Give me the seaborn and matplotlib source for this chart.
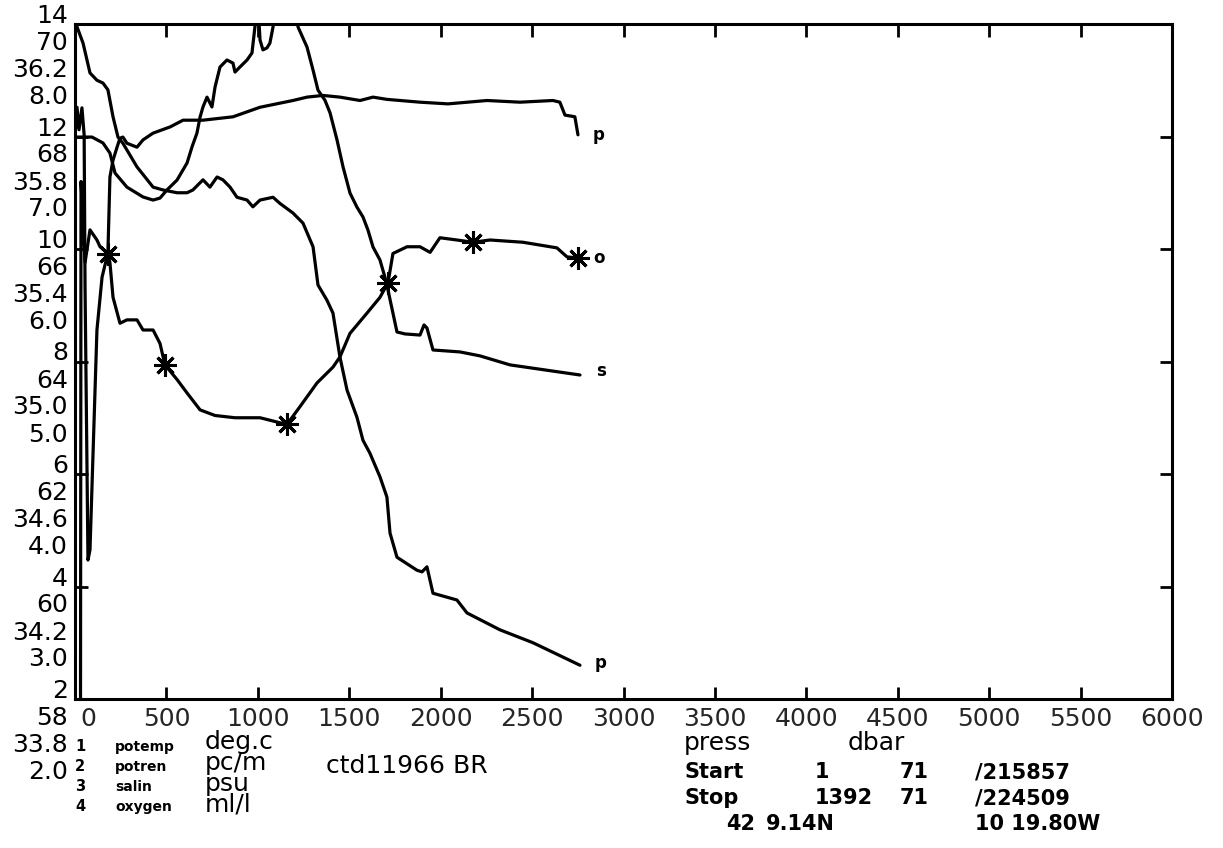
import matplotlib
matplotlib.use("Agg")
import matplotlib.pyplot as plt
import matplotlib.transforms as mtransforms
import pandas as pd
import seaborn as sns

# ---------------- CTD profile, station ctd11966 (pressure in dbar) ----------------
potemp_p = [0, 5, 11, 44, 82, 120, 153, 180, 208, 235,
            262, 339, 427, 481, 558, 613, 645, 700, 738, 777,
            809, 848, 886, 941, 973, 1012, 1083, 1121, 1192, 1247,
            1302, 1329, 1378, 1411, 1449, 1488, 1542, 1575, 1613, 1668,
            1706, 1723, 1761, 1870, 1898, 1925, 1958, 2089, 2144, 2324,
            2505, 2762]
potemp_v = [14.6, 14.3, 13.95, 13.66, 13.13, 13.00, 12.95, 12.83, 12.35, 11.99,
            11.88, 11.46, 11.10, 11.05, 11.00, 11.00, 11.05, 11.23, 11.10, 11.28,
            11.23, 11.10, 10.92, 10.87, 10.75, 10.87, 10.92, 10.81, 10.64, 10.46,
            10.04, 9.36, 9.09, 8.86, 8.08, 7.49, 7.01, 6.60, 6.37, 5.95,
            5.59, 4.95, 4.52, 4.29, 4.26, 4.35, 3.88, 3.76, 3.53, 3.23,
            3.00, 2.60]

potren_p = [0, 11, 22, 38, 50, 55, 71, 82, 120, 148,
            180, 191, 208, 230, 246, 262, 284, 339, 372, 427,
            520, 591, 700, 864, 1012, 1192, 1269, 1356, 1449, 1559,
            1630, 1706, 1887, 2040, 2253, 2434, 2614, 2652, 2680, 2718,
            2734, 2751]
potren_v = [67.99, 68.52, 68.12, 68.51, 68.03, 65.32, 60.47, 60.65, 64.56, 65.50,
            65.93, 67.28, 67.58, 67.81, 67.97, 67.99, 67.88, 67.81, 67.94, 68.06,
            68.17, 68.29, 68.29, 68.35, 68.52, 68.64, 68.70, 68.73, 68.70, 68.64,
            68.70, 68.66, 68.61, 68.58, 68.64, 68.61, 68.64, 68.61, 68.38, 68.36,
            68.35, 68.03]

salin_p = [0, 93, 153, 191, 219, 284, 372, 427, 465, 503,
           558, 613, 640, 667, 684, 700, 722, 749, 766, 793,
           831, 864, 875, 902, 941, 968, 984, 1001, 1012, 1028,
           1050, 1066, 1083, 1099, 1203, 1220, 1269, 1302, 1329, 1367,
           1395, 1433, 1466, 1504, 1542, 1575, 1602, 1630, 1668, 1695,
           1712, 1739, 1761, 1805, 1887, 1909, 1925, 1958, 2106, 2215,
           2379, 2570, 2762]
salin_v = [35.798, 35.798, 35.777, 35.741, 35.670, 35.620, 35.585, 35.574, 35.581, 35.610,
           35.645, 35.706, 35.763, 35.812, 35.869, 35.905, 35.940, 35.905, 35.976, 36.047,
           36.072, 36.061, 36.029, 36.047, 36.072, 36.097, 36.189, 36.270, 36.143, 36.108,
           36.115, 36.132, 36.189, 36.270, 36.270, 36.189, 36.118, 36.036, 35.965, 35.929,
           35.884, 35.788, 35.692, 35.599, 35.549, 35.514, 35.468, 35.407, 35.361, 35.300,
           35.254, 35.172, 35.105, 35.098, 35.094, 35.130, 35.119, 35.041, 35.034, 35.020,
           34.988, 34.970, 34.952]

oxygen_p = [0, 30, 33, 38, 55, 82, 120, 137, 180, 191,
            208, 246, 284, 339, 372, 427, 465, 492, 558, 613,
            684, 766, 875, 1012, 1159, 1231, 1324, 1411, 1449, 1504,
            1597, 1668, 1712, 1739, 1816, 1887, 1942, 1996, 2089, 2177,
            2270, 2450, 2636, 2691, 2751]
oxygen_v = [1.80, 1.80, 6.60, 6.44, 5.88, 6.17, 6.08, 6.02, 5.96, 5.88,
            5.57, 5.34, 5.37, 5.37, 5.28, 5.28, 5.16, 4.97, 4.84, 4.72,
            4.57, 4.52, 4.50, 4.50, 4.44, 4.60, 4.81, 4.95, 5.04, 5.25,
            5.43, 5.57, 5.70, 5.96, 6.02, 6.02, 5.97, 6.10, 6.08, 6.06,
            6.08, 6.06, 6.01, 5.93, 5.92]

# bottle-stop markers on the oxygen trace
oxygen_star_p = [180, 492, 1159, 1712, 2177, 2751]
oxygen_star_v = [5.96, 4.97, 4.44, 5.70, 6.06, 5.92]

# axis scales (bottom, top) and their stacked tick labels, top to bottom
potemp_lim, potemp_ticks = (2, 14), ["14", "12", "10", "8", "6", "4", "2"]
potren_lim, potren_ticks = (58, 70), ["70", "68", "66", "64", "62", "60", "58"]
salin_lim, salin_ticks = (33.8, 36.2), ["36.2", "35.8", "35.4", "35.0", "34.6", "34.2", "33.8"]
oxygen_lim, oxygen_ticks = (2.0, 8.0), ["8.0", "7.0", "6.0", "5.0", "4.0", "3.0", "2.0"]

press_ticks = list(range(0, 6001, 500))
end_tags = ["p", "p", "s", "o"]

var_numbers = ["1", "2", "3", "4"]
var_names = ["potemp", "potren", "salin", "oxygen"]
var_units = ["deg.c", "pc/m", "psu", "ml/l"]
station = "ctd11966 BR"

# ---------------- figure ----------------
sns.set_style("white")
plt.rcParams["font.family"] = ["DejaVu Sans"]
plt.rcParams["text.color"] = "black"

W, H = 1223, 848
fig = plt.figure(figsize=(W / 100, H / 100), dpi=100)
X0, X1, Y0, Y1 = 75, 1172, 24, 699
ax = fig.add_axes([X0 / W, 1 - Y1 / H, (X1 - X0) / W, (Y1 - Y0) / H])
ax_ren = ax.twinx()
ax_sal = ax.twinx()
ax_oxy = ax.twinx()

series = [
    (ax, potemp_p, potemp_v, potemp_lim, potemp_ticks),
    (ax_ren, potren_p, potren_v, potren_lim, potren_ticks),
    (ax_sal, salin_p, salin_v, salin_lim, salin_ticks),
    (ax_oxy, oxygen_p, oxygen_v, oxygen_lim, oxygen_ticks),
]

LW = 2.3
for a, p, v, lim, _ in series:
    df = pd.DataFrame({"press": p, "value": v})
    sns.lineplot(data=df, x="press", y="value", ax=a, color="black",
                 linewidth=LW, estimator=None, sort=False, legend=False)
    a.set_ylim(*lim)
    a.set_xlabel("")
    a.set_ylabel("")
    if a is not ax:
        a.set_axis_off()

ax_oxy.plot(oxygen_star_p, oxygen_star_v, linestyle="none", marker=(8, 2, 0),
            markersize=16, markeredgewidth=2.2, color="black")

# single-letter tags at the deep end of each trace
tag_axes = [ax_ren, ax, ax_sal, ax_oxy]
tag_data = [(potren_p, potren_v), (potemp_p, potemp_v), (salin_p, salin_v), (oxygen_p, oxygen_v)]
tag_dy = [0, 2, 4, 0]
for a, (p, v), tag, dy in zip(tag_axes, tag_data, end_tags, tag_dy):
    a.annotate(tag, xy=(p[-1], v[-1]), xytext=(21, dy), textcoords="offset pixels",
               ha="center", va="center", fontsize=12, fontweight="bold",
               annotation_clip=False)

# frame and ticks
ax.set_xlim(0, 6000)
ax.set_xticks(press_ticks)
ax.set_xticklabels([str(t) for t in press_ticks])
ax.set_yticks([potemp_lim[0] + i * 2 for i in range(7)])
for side in ["left", "right", "top", "bottom"]:
    ax.spines[side].set_visible(True)
    ax.spines[side].set_linewidth(2.2)
    ax.spines[side].set_color("black")
ax.tick_params(axis="both", direction="in", length=9, width=2.0, color="black",
               top=True, right=True, bottom=True, left=True,
               labelleft=False, labelright=False, labelsize=18, pad=6)

# four stacked scales on the left, one label per variable at every tick
for k, (a, _, _, lim, labels) in enumerate(series):
    step = (lim[1] - lim[0]) / 6
    base = mtransforms.blended_transform_factory(ax.transAxes, a.transData)
    shift = mtransforms.ScaledTranslation(-7 / 100, (8 - 27 * k) / 100, fig.dpi_scale_trans)
    for i, lab in enumerate(labels):
        val = lim[1] - i * step
        ax.text(0, val, lab, transform=base + shift, ha="right", va="center",
                fontsize=18, clip_on=False)

# nudge the zero label off the left scale
zero_lab = ax.xaxis.get_major_ticks()[0].label1
zero_lab.set_transform(zero_lab.get_transform() +
                       mtransforms.ScaledTranslation(13 / 100, 0, fig.dpi_scale_trans))


def fx(x):
    return x / W


def fy(y):
    return 1 - y / H


# variable key under the plot
rows = [750, 770, 790, 810]
for y, num, name in zip(rows, var_numbers, var_names):
    fig.text(fx(80), fy(y + 1), num, ha="center", va="baseline", fontsize=10.5, fontweight="bold")
    fig.text(fx(115), fy(y + 1), name, ha="left", va="baseline", fontsize=10, fontweight="bold")
# the unit column is set as one tightly leaded block
fig.text(fx(205), fy(730), "\n".join(var_units), ha="left", va="top",
         fontsize=18, linespacing=0.84)
fig.text(fx(326), fy(773), station, ha="left", va="baseline", fontsize=18)

# cast information
fig.text(fx(684), fy(750), "press", ha="left", va="baseline", fontsize=18)
fig.text(fx(848), fy(750), "dbar", ha="left", va="baseline", fontsize=18)
info_rows = [
    (778, [(684, "Start"), (815, "1"), (900, "71"), (975, "/215857")]),
    (804, [(684, "Stop"), (815, "1392"), (900, "71"), (975, "/224509")]),
    (830, [(726, "42"), (766, "9.14N"), (975, "10 19.80W")]),
]
for y, items in info_rows:
    for x, s in items:
        fig.text(fx(x), fy(y), s, ha="left", va="baseline", fontsize=15, fontweight="bold")

fig.savefig("out.png", dpi=100)
